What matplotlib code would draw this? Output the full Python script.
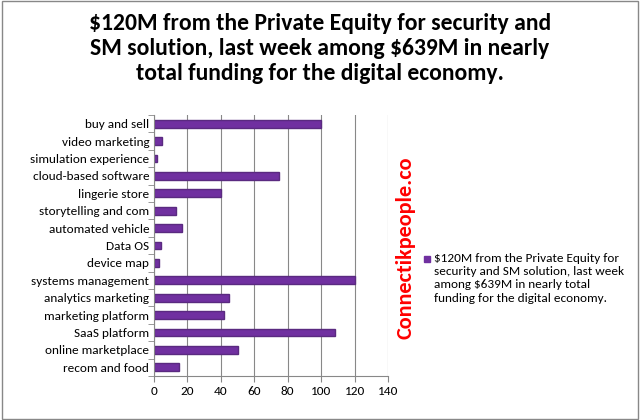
import matplotlib
matplotlib.use("Agg")
import matplotlib.pyplot as plt
from matplotlib.patches import Rectangle

categories = ["buy and sell", "video marketing", "simulation experience", "cloud-based software",
              "lingerie store", "storytelling and com", "automated vehicle", "Data OS", "device map",
              "systems management", "analytics marketing", "marketing platform", "SaaS platform",
              "online marketplace", "recom and food"]
values = [100, 5, 2, 75, 40, 13, 17, 4, 3, 120, 45, 42, 108, 50, 15]
ticks = [0, 20, 40, 60, 80, 100, 120, 140]
series_name = "$120M from the Private Equity for\nsecurity and SM solution, last week\namong $639M in nearly total\nfunding for the digital economy."
title = "$120M from the Private Equity for security and\nSM solution, last week among $639M in nearly\ntotal funding for the digital economy."

plt.rcParams['font.family'] = ['Carlito', 'Liberation Sans', 'DejaVu Sans']
fig = plt.figure(figsize=(6.4, 4.2), dpi=100)
fig.patches.append(Rectangle((0.003, 0.003), 0.994, 0.994, transform=fig.transFigure,
                             fill=False, edgecolor='#888888', lw=1))
fig.text(0.5, 0.97, title, ha='center', va='top', fontsize=17, fontweight='bold', linespacing=1.25)

ax = fig.add_axes([154/640, 1-376/420, 234/640, 261/420])
y = list(range(len(categories)))
ax.barh(y, values, height=0.45, color='#7030A0', edgecolor='#5a2a80')
ax.set_ylim(len(categories)-0.5, -0.5)
ax.set_yticks(y)
ax.set_yticklabels(categories, fontsize=9.5)
ax.set_xlim(0, 140)
ax.set_xticks(ticks)
ax.tick_params(axis='x', labelsize=9.5, length=4, color='#888888')
ax.set_yticks([i - 0.5 for i in range(len(categories)+1)], minor=True)
ax.tick_params(axis='y', which='minor', length=4, color='#888888')
ax.tick_params(axis='y', which='major', length=0)
ax.grid(axis='x', color='#888888', lw=0.8)
ax.set_axisbelow(True)
for s in ['top', 'right']:
    ax.spines[s].set_visible(False)
for s in ['left', 'bottom']:
    ax.spines[s].set_color('#888888')

fig.text(405/640, 1-248/420, "Connectikpeople.co", rotation=90, color='red', fontsize=16,
         fontweight='bold', ha='center', va='center')
fig.patches.append(Rectangle((424/640, 1-262/420), 6/640, 6/420, transform=fig.transFigure,
                             color='#7030A0'))
fig.text(434/640, 1-253/420, series_name, fontsize=9.5, va='top', ha='left', linespacing=1.25)

fig.savefig("out.png", dpi=100)
